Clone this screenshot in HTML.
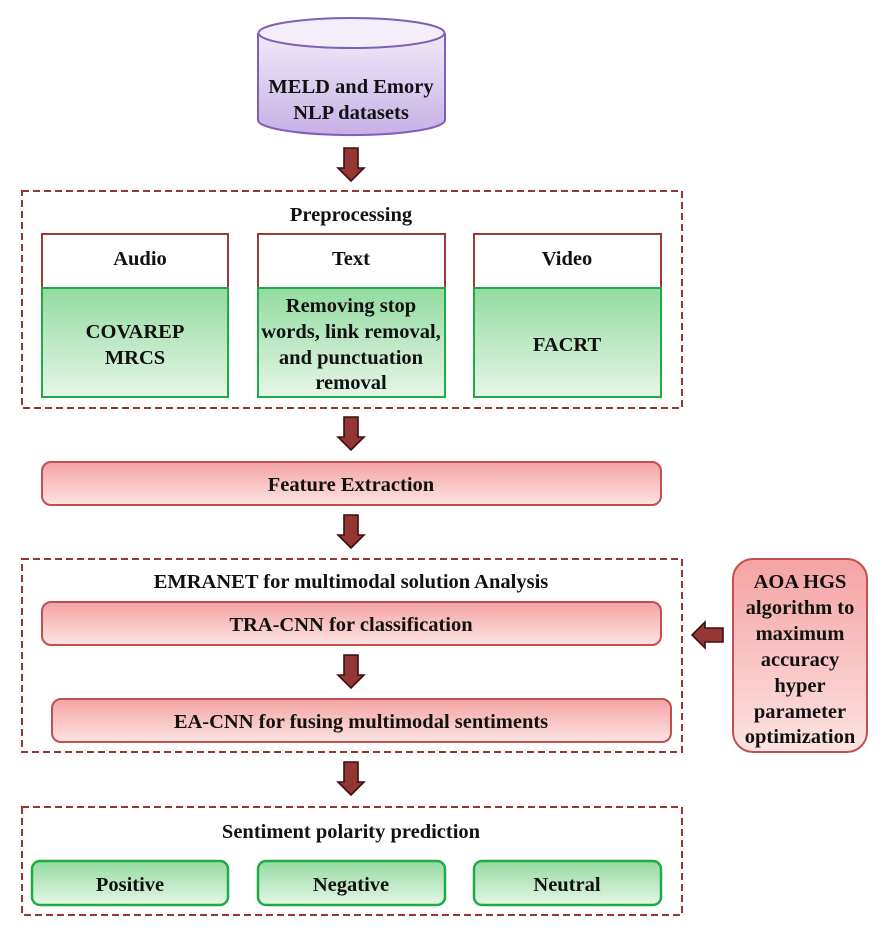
<!DOCTYPE html>
<html><head><meta charset="utf-8"><style>
html,body{margin:0;padding:0;background:#fff}
svg text{font-family:"Liberation Serif",serif;font-weight:bold;fill:#111;text-anchor:middle}
</style></head><body>
<svg width="890" height="929" viewBox="0 0 890 929" xmlns="http://www.w3.org/2000/svg" font-family="Liberation Serif, serif">
<defs>
<linearGradient id="pk" x1="0" y1="0" x2="0" y2="1"><stop offset="0" stop-color="#f4a3a3"/><stop offset="1" stop-color="#fde3e3"/></linearGradient>
<linearGradient id="gr" x1="0" y1="0" x2="0" y2="1"><stop offset="0" stop-color="#93dba0"/><stop offset="1" stop-color="#e6f6e8"/></linearGradient>
<linearGradient id="pu" x1="0" y1="0" x2="0" y2="1"><stop offset="0" stop-color="#f0eaf8"/><stop offset="1" stop-color="#c6b1e6"/></linearGradient>
<g id="arr"><path d="M-7,0 h14 v20 h6 l-13,13 l-13,-13 h6 z" fill="#943634" stroke="#3a1010" stroke-width="1.6"/></g>
</defs>
<!-- cylinder -->
<path d="M258,33 L258,120 A93,15 0 0 0 445,120 L445,33" fill="url(#pu)" stroke="#7f5fb8" stroke-width="2"/>
<ellipse cx="351.5" cy="33" rx="93" ry="15" fill="#f3eef9" stroke="#7f5fb8" stroke-width="2"/>
<g font-size="20.5">
<text x="351" y="93">MELD and Emory</text>
<text x="351" y="119">NLP datasets</text>
</g>
<use href="#arr" x="351" y="148"/>
<!-- preprocessing -->
<rect x="22" y="191" width="660" height="217" fill="none" stroke="#943634" stroke-width="2" stroke-dasharray="7,4"/>
<g stroke-width="2">
<rect x="42" y="234" width="186" height="54" fill="#fff" stroke="#a03a38"/>
<rect x="42" y="288" width="186" height="109" fill="url(#gr)" stroke="#1fab46"/>
<rect x="258" y="234" width="187" height="54" fill="#fff" stroke="#a03a38"/>
<rect x="258" y="288" width="187" height="109" fill="url(#gr)" stroke="#1fab46"/>
<rect x="474" y="234" width="187" height="54" fill="#fff" stroke="#a03a38"/>
<rect x="474" y="288" width="187" height="109" fill="url(#gr)" stroke="#1fab46"/>
</g>
<g font-size="20.5">
<text x="351" y="221">Preprocessing</text>
<text x="140" y="265">Audio</text>
<text x="351" y="265">Text</text>
<text x="567" y="265">Video</text>
<text x="135" y="338">COVAREP</text>
<text x="135" y="364">MRCS</text>
<text x="351" y="312">Removing stop</text>
<text x="351" y="338">words, link removal,</text>
<text x="351" y="364">and punctuation</text>
<text x="351" y="389">removal</text>
<text x="567" y="351">FACRT</text>
</g>
<use href="#arr" x="351" y="417"/>
<rect x="42" y="462" width="619" height="43" rx="9" fill="url(#pk)" stroke="#c0504d" stroke-width="2"/>
<text x="351" y="491" font-size="20.5">Feature Extraction</text>
<use href="#arr" x="351" y="515"/>
<!-- EMRANET -->
<rect x="22" y="559" width="660" height="193" fill="none" stroke="#943634" stroke-width="2" stroke-dasharray="7,4"/>
<text x="351" y="588" font-size="20.5">EMRANET for multimodal solution Analysis</text>
<rect x="42" y="602" width="619" height="43" rx="9" fill="url(#pk)" stroke="#c0504d" stroke-width="2"/>
<text x="351" y="631" font-size="20.5">TRA-CNN for classification</text>
<use href="#arr" x="351" y="655"/>
<rect x="52" y="699" width="619" height="43" rx="9" fill="url(#pk)" stroke="#c0504d" stroke-width="2"/>
<text x="361" y="728" font-size="20.5">EA-CNN for fusing multimodal sentiments</text>
<!-- AOA -->
<rect x="733" y="559" width="134" height="193" rx="20" fill="url(#pk)" stroke="#c0504d" stroke-width="2"/>
<g font-size="20.5"><text x="800" y="588">AOA HGS</text><text x="800" y="614">algorithm to</text><text x="800" y="640">maximum</text><text x="800" y="666">accuracy</text><text x="800" y="692">hyper</text><text x="800" y="718">parameter</text><text x="800" y="743">optimization</text></g>
<path d="M723,628 h-18 v-6 l-13,13 l13,13 v-6 h18 z" fill="#943634" stroke="#3a1010" stroke-width="1.6"/>
<use href="#arr" x="351" y="762"/>
<!-- Sentiment -->
<rect x="22" y="807" width="660" height="108" fill="none" stroke="#943634" stroke-width="2" stroke-dasharray="7,4"/>
<text x="351" y="838" font-size="20.5">Sentiment polarity prediction</text>
<rect x="32" y="861" width="196" height="44" rx="8" fill="url(#gr)" stroke="#1fab46" stroke-width="2.5"/>
<rect x="258" y="861" width="187" height="44" rx="8" fill="url(#gr)" stroke="#1fab46" stroke-width="2.5"/>
<rect x="474" y="861" width="187" height="44" rx="8" fill="url(#gr)" stroke="#1fab46" stroke-width="2.5"/>
<g font-size="20.5">
<text x="130" y="891">Positive</text>
<text x="351" y="891">Negative</text>
<text x="567" y="891">Neutral</text>
</g>
</svg>
</body></html>
